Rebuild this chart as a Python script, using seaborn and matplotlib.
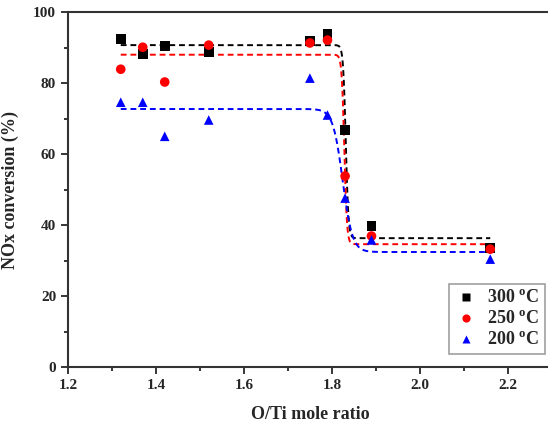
import numpy as np
import pandas as pd
import matplotlib
matplotlib.use("Agg")
import matplotlib.pyplot as plt
from matplotlib.ticker import MultipleLocator
import seaborn as sns

# O/Ti mole ratio of each catalyst sample
ratio = [1.32, 1.37, 1.42, 1.52, 1.75, 1.79, 1.83, 1.89, 2.16]

# NOx conversion (%) at each reaction temperature
conv_300 = [92.4, 88.2, 90.4, 88.7, 91.8, 93.8, 66.8, 39.7, 33.5]
conv_250 = [83.9, 90.1, 80.3, 90.7, 91.3, 92.1, 53.8, 36.9, 33.2]
conv_200 = [74.6, 74.6, 65.0, 69.6, 81.4, 71.0, 47.6, 35.8, 30.4]

temps = ["300 $^{\\rm o}$C", "250 $^{\\rm o}$C", "200 $^{\\rm o}$C"]

# Boltzmann fit parameters (A1, A2, x0, dx) per temperature
fit_300 = (90.7, 36.3, 1.8315, 0.003)
fit_250 = (88.0, 34.6, 1.8283, 0.003)
fit_200 = (72.7, 32.4, 1.8245, 0.011)

colors = ["#000000", "#ff0000", "#0000ff"]
markers = ["s", "o", "^"]

points = pd.DataFrame({
    "ratio": ratio * 3,
    "conversion": conv_300 + conv_250 + conv_200,
    "temp": [t for t in temps for _ in ratio],
})


def boltzmann(x, a1, a2, x0, dx):
    return a2 + (a1 - a2) / (1.0 + np.exp((x - x0) / dx))


xfit = np.linspace(min(ratio), max(ratio), 1200)
fits = pd.DataFrame({
    "ratio": np.tile(xfit, 3),
    "conversion": np.concatenate([boltzmann(xfit, *p) for p in (fit_300, fit_250, fit_200)]),
    "temp": np.repeat(temps, len(xfit)),
})

sns.set_style("ticks")
plt.rcParams["font.family"] = ["Liberation Serif", "DejaVu Serif"]
plt.rcParams["mathtext.fontset"] = "custom"
plt.rcParams["mathtext.rm"] = "Liberation Serif:bold"
plt.rcParams["font.weight"] = "bold"

fig = plt.figure(figsize=(5.48, 4.23), dpi=100)
ax = fig.add_axes([0.124, 0.1324, 0.883, 0.839])

palette = dict(zip(temps, colors))
sns.lineplot(data=fits, x="ratio", y="conversion", hue="temp", palette=palette,
             hue_order=temps, linestyle=(0, (3, 2)), linewidth=1.4, legend=False,
             ax=ax, estimator=None, sort=False)
sns.scatterplot(data=points, x="ratio", y="conversion", hue="temp", style="temp",
                palette=palette, hue_order=temps, style_order=temps,
                markers=dict(zip(temps, markers)), s=48, edgecolor="none",
                ax=ax, zorder=3)

ax.set_xlim(1.2, 2.3)
ax.set_ylim(0, 100)
ax.xaxis.set_major_locator(MultipleLocator(0.2))
ax.xaxis.set_minor_locator(MultipleLocator(0.1))
ax.yaxis.set_major_locator(MultipleLocator(20))
ax.yaxis.set_minor_locator(MultipleLocator(10))
ax.tick_params(which="major", length=5, width=1.3, labelsize=11, direction="out")
ax.tick_params(which="minor", length=3, width=1.3, direction="out")
for lab in ax.get_xticklabels() + ax.get_yticklabels():
    lab.set_fontweight("bold")
for side in ["left", "bottom", "top"]:
    ax.spines[side].set_linewidth(1.5)
    ax.spines[side].set_color("#333333")
ax.spines["right"].set_visible(False)

ax.set_xlabel("O/Ti mole ratio", fontsize=13, fontweight="bold", labelpad=10)
ax.set_ylabel("NOx conversion (%)", fontsize=13, fontweight="bold", labelpad=10)

handles, labels = ax.get_legend_handles_labels()
leg = ax.legend(handles, labels, loc="lower right", bbox_to_anchor=(1.004, 0.01),
                fancybox=False, frameon=True, edgecolor="#888888", fontsize=13,
                handletextpad=0.5, borderpad=0.3, labelspacing=0.2,
                handlelength=1.3, markerscale=0.85)
leg.get_frame().set_linewidth(1.2)
for t in leg.get_texts():
    t.set_fontweight("bold")

fig.savefig("out.png", dpi=100)
